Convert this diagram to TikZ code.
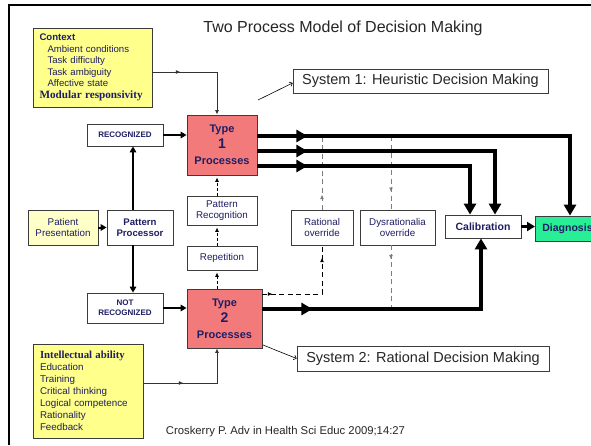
\documentclass[tikz,border=0pt]{standalone}
\usepackage{fontspec}
\setmainfont{Liberation Sans}
\newfontfamily\serifface{Liberation Serif}
\usetikzlibrary{arrows.meta,decorations.markings}

\definecolor{navy}{RGB}{30,30,100}
\definecolor{boxedge}{RGB}{60,60,60}
\definecolor{pinkfill}{RGB}{242,122,122}
\definecolor{yellowfill}{RGB}{255,255,140}
\definecolor{paleyellow}{RGB}{255,255,200}
\definecolor{greenfill}{RGB}{40,238,150}
\definecolor{dashgray}{RGB}{125,125,125}

\tikzset{
  box/.style={draw=boxedge, line width=0.8pt, fill=white, align=center,
    inner sep=1pt, text=navy},
  procbox/.style={box, fill=pinkfill, minimum height=60pt,
    font=\bfseries\fontsize{11}{16}\selectfont},
  labelbox/.style={draw=boxedge, line width=0.8pt, inner sep=2pt,
    text=black!85, font=\fontsize{14.5}{17}\selectfont},
  midtip/.style={postaction={decorate, decoration={markings,
    mark=at position #1 with {\arrow{Triangle[length=11pt,width=12pt]}}}}},
  smalltip/.style={postaction={decorate, decoration={markings,
    mark=at position #1 with {\arrow{Latex[length=4.5pt,width=4pt]}}}}},
  thinline/.style={line width=0.9pt, draw=black!80,
    -{Latex[length=4.5pt,width=4pt]}},
  medarrow/.style={line width=2pt, -{Triangle[length=6pt,width=6.5pt]}},
  heavy/.style={line width=3.8pt, -{Triangle[length=11pt,width=12pt]}},
  chain/.style={line width=0.8pt, dash pattern=on 3pt off 2pt,
    -{Latex[length=4.5pt,width=4pt]}, shorten >=2pt},
  dashblk/.style={line width=0.9pt, dash pattern=on 5pt off 3.5pt},
  dashgry/.style={line width=0.9pt, draw=dashgray, dash pattern=on 5pt off 3.5pt},
  pointer/.style={line width=0.6pt, -{To[length=3pt,width=5pt]}}
}

\begin{document}
\begin{tikzpicture}[x=1pt,y=-1pt]
\useasboundingbox (0,0) rectangle (591,445);
\clip (0,0) rectangle (591,445);
\fill[white] (0,0) rectangle (591,445);

% slide frame
\draw[line width=2.5pt] (9,445) -- (9,5) -- (591,5);

% title and citation
\node[text=black!85, font=\fontsize{16}{19}\selectfont] (title) at (343,28)
  {Two Process Model of Decision Making};
\node[text=black!85, font=\fontsize{11.3}{13}\selectfont] (cite) at (285.5,432)
  {Croskerry P. Adv in Health Sci Educ 2009;14:27};

% context box
\node[box, fill=yellowfill, text width=106pt, inner xsep=6.5pt, inner ysep=0pt,
      minimum height=79pt, align=left, font=\fontsize{9.6}{11.5}\selectfont]
  (context) at (92.5,67.5)
  {{\bfseries Context}\\
   \hspace*{8pt}Ambient conditions\\
   \hspace*{8pt}Task difficulty\\
   \hspace*{8pt}Task ambiguity\\
   \hspace*{8pt}Affective state\\
   {\serifface\bfseries\fontsize{11.2}{13.5}\selectfont Modular responsivity}};

% abilities box
\node[box, fill=yellowfill, text width=96pt, inner xsep=7pt, inner ysep=0pt,
      minimum height=94pt, align=left, font=\fontsize{9.8}{12}\selectfont]
  (intel) at (88,391)
  {{\serifface\bfseries\fontsize{10.8}{12}\selectfont Intellectual ability}\\
   Education\\Training\\Critical thinking\\Logical competence\\Rationality\\Feedback};

% system labels
\node[labelbox, minimum width=255pt, minimum height=24pt] (sys1) at (420.5,81)
  {System 1: Heuristic Decision Making};
\node[labelbox, minimum width=252pt, minimum height=25pt] (sys2) at (423,358.5)
  {System 2: Rational Decision Making};

% process boxes
\node[procbox, minimum width=70pt] (type1) at (222,145)
  {Type\\{\fontsize{14}{16}\selectfont 1}\\Processes};
\node[procbox, minimum width=75pt, minimum height=59pt] (type2) at (224.5,318.5)
  {Type\\{\fontsize{14}{16}\selectfont 2}\\Processes};

% left column
\node[box, minimum width=76pt, minimum height=22pt,
      font=\bfseries\fontsize{8}{9}\selectfont] (recog) at (125,135) {RECOGNIZED};
\node[box, minimum width=76pt, minimum height=30pt,
      font=\bfseries\fontsize{8}{10}\selectfont] (notrec) at (125,308) {NOT\\RECOGNIZED};
\node[box, fill=paleyellow, minimum width=70pt, minimum height=35pt,
      font=\fontsize{9.8}{11.5}\selectfont] (patpres) at (63,227.5) {Patient\\Presentation};
\node[box, minimum width=66pt, minimum height=35pt,
      font=\bfseries\fontsize{9.6}{11.5}\selectfont] (patproc) at (140,227.5) {Pattern\\Processor};

% middle column
\node[box, minimum width=70pt, minimum height=29pt,
      font=\fontsize{9.8}{11.5}\selectfont] (patrec) at (222,210.5) {Pattern\\Recognition};
\node[box, minimum width=70pt, minimum height=24pt,
      font=\fontsize{9.8}{11.5}\selectfont] (repet) at (222,258) {Repetition};

% overrides
\node[box, minimum width=62pt, minimum height=35pt,
      font=\fontsize{9.8}{11.5}\selectfont] (ratov) at (322,227.5) {Rational\\override};
\node[box, minimum width=75pt, minimum height=35pt,
      font=\fontsize{9.8}{11.5}\selectfont] (dysov) at (397.5,227.5) {Dysrationalia\\override};

% outcome
\node[box, minimum width=76pt, minimum height=23pt,
      font=\bfseries\fontsize{10.5}{12}\selectfont] (calib) at (483,226.5) {Calibration};
\node[box, fill=greenfill, anchor=west, text width=75pt, inner xsep=7pt,
      minimum height=25pt, align=left,
      font=\bfseries\fontsize{10.5}{12}\selectfont] (diag) at (535,228.5) {Diagnosis};

% routing columns
\coordinate (col) at (217,0);
\coordinate (vcol) at (133,0);
\coordinate (ratcol) at (322,0);
\coordinate (dyscol) at (391,0);
\coordinate (c1) at (470,0);
\coordinate (c2) at (495,0);
\coordinate (c3) at (481,0);
\coordinate (dcol) at (570,0);
\coordinate (o1) at ([yshift=9pt]type1.east);
\coordinate (o2) at ([yshift=-6pt]type1.east);
\coordinate (o3) at ([yshift=-21pt]type1.east);
\coordinate (t2) at ([yshift=9.5pt]type2.east);
\coordinate (s1tail) at (258,100);
\coordinate (s2tail) at (263,345);

% influences on the two processes
\draw[thinline, smalltip=28pt] ([yshift=-4.5pt]context.east) -| (type1.north -| col);
\draw[thinline, smalltip=40pt] ([yshift=8pt]intel.east) -| (type2.south -| col);

% pattern processor routing
\draw[medarrow] (patpres) -- (patproc);
\draw[medarrow] (patproc.north -| vcol) -- (recog.south -| vcol);
\draw[medarrow] (patproc.south -| vcol) -- (notrec.north -| vcol);
\draw[medarrow] (recog) -- (type1.west |- recog);
\draw[medarrow] (notrec) -- (type2.west |- notrec);

% learning chain from type 2 to type 1
\draw[chain] (type2.north -| col) -- (repet.south -| col);
\draw[chain] (repet.north -| col) -- (patrec.south -| col);
\draw[chain] (patrec.north -| col) -- (type1.south -| col);

% override paths
\draw[dashblk, smalltip=10pt, smalltip=96pt] ([yshift=24.5pt]type2.east) -| (ratov.south -| ratcol);
\draw[dashgry, smalltip=15pt] (ratov.north -| ratcol) -- (o1 -| ratcol);
\draw[dashgry, smalltip=56pt] (o1 -| dyscol) -- (dysov.north -| dyscol);
\draw[dashgry, smalltip=14pt] (dysov.south -| dyscol) -- (t2 -| dyscol);

% main outputs
\draw[heavy, midtip=50pt] (o1) -| (diag.north -| dcol);
\draw[heavy, midtip=50pt] (o2) -| (calib.north -| c2);
\draw[heavy, midtip=50pt] (o3) -| (calib.north -| c1);
\draw[heavy, midtip=50pt] (t2) -| (calib.south -| c3);
\draw[line width=3pt, -{Triangle[length=8pt,width=9pt]}] (calib.east) -- (diag.west |- calib.east);

% pointers to system labels
\draw[pointer] (s1tail) -- ([yshift=-2pt]sys1.west);
\draw[pointer] (s2tail) -- (sys2.west);
\end{tikzpicture}
\end{document}
